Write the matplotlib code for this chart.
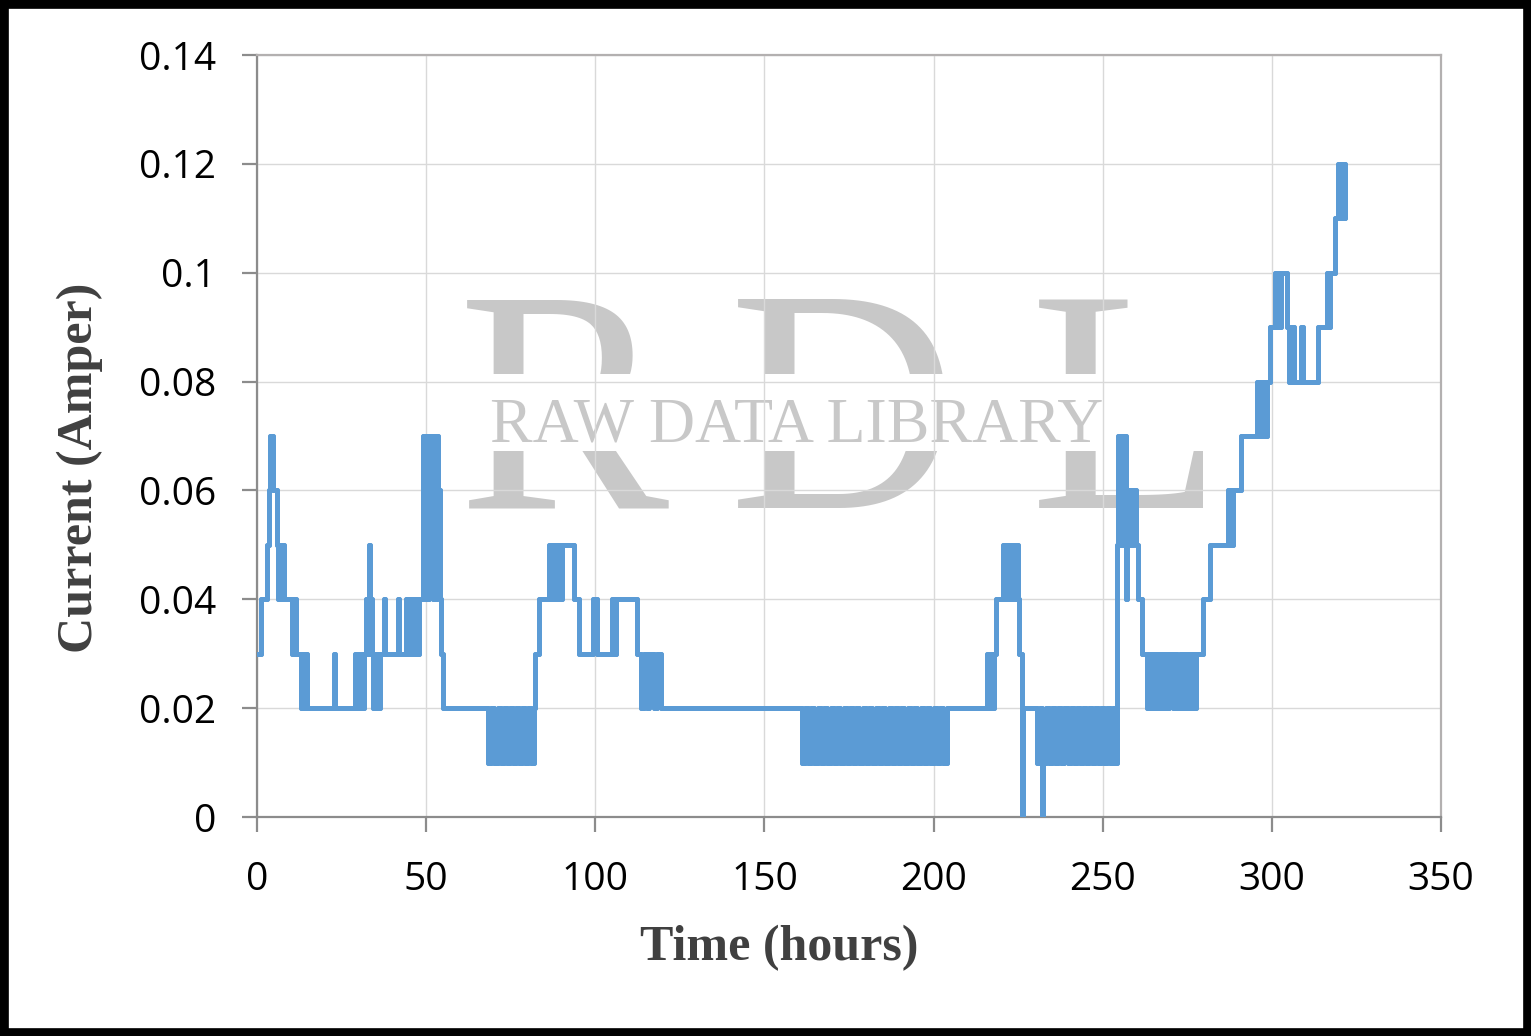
import matplotlib.pyplot as plt
from matplotlib.patches import Rectangle

plt.rcParams['path.simplify'] = False

# each pair: (time in hours, current in A held from that time on)
switches_start = [
    (0, 0.03), (1.3, 0.04), (3.0, 0.05), (3.6, 0.06), (3.9, 0.07), (4.6, 0.06),
    (5.8, 0.05), (6.3, 0.04), (6.7, 0.05), (7.1, 0.04), (7.5, 0.05), (8.0, 0.04),
    (10.3, 0.03), (10.8, 0.04), (11.5, 0.03), (12.9, 0.02), (13.3, 0.03), (13.8, 0.02),
    (14.3, 0.03), (14.8, 0.02), (22.7, 0.03), (23.1, 0.02), (29.0, 0.03), (29.5, 0.02),
    (30.0, 0.03), (30.5, 0.02), (31.0, 0.03), (31.4, 0.02), (31.7, 0.03), (32.3, 0.04),
    (32.7, 0.03), (33.0, 0.05), (33.3, 0.03), (33.8, 0.04), (34.1, 0.03), (34.4, 0.02),
    (34.8, 0.03), (35.2, 0.02), (35.6, 0.03), (36.0, 0.02), (36.5, 0.03), (37.5, 0.04),
    (37.9, 0.03), (41.7, 0.04), (42.1, 0.03), (44.0, 0.04), (44.5, 0.03), (45.0, 0.04),
    (45.5, 0.03), (46.0, 0.04), (46.5, 0.03), (47.0, 0.04), (47.5, 0.03), (48.0, 0.04),
    (49.2, 0.07), (49.6, 0.04), (50.0, 0.07), (50.4, 0.04), (50.8, 0.07), (51.2, 0.05),
    (51.6, 0.07), (52.0, 0.04), (52.4, 0.07), (52.8, 0.04), (53.2, 0.07), (53.6, 0.06),
    (54.0, 0.04), (54.5, 0.03), (55.0, 0.02),
]

switches_mid = [
    (68.4, 0.01), (69.3, 0.02), (70.2, 0.01), (71.1, 0.02), (72.0, 0.01), (72.9, 0.02),
    (73.8, 0.01), (74.7, 0.02), (75.6, 0.01), (76.5, 0.02), (77.4, 0.01), (78.3, 0.02),
    (79.2, 0.01), (80.1, 0.02), (81.0, 0.01), (81.8, 0.02), (82.2, 0.03), (83.3, 0.04),
    (86.3, 0.05), (86.8, 0.04), (87.3, 0.05), (87.8, 0.04), (88.3, 0.05), (88.8, 0.04),
    (89.3, 0.05), (89.8, 0.04), (90.3, 0.05), (93.7, 0.04), (95.3, 0.03), (99.4, 0.04),
    (100.6, 0.03), (105.0, 0.04), (105.5, 0.03), (106.0, 0.04), (112.4, 0.03), (113.5, 0.02),
    (114.3, 0.03), (115.2, 0.02), (116.0, 0.03), (117.4, 0.02), (118.2, 0.03), (119.5, 0.02),
]

switches_long = [
    (161.0, 0.01), (162.0, 0.02), (162.9, 0.01), (163.9, 0.02), (164.8, 0.01), (165.8, 0.02),
    (166.7, 0.01), (167.7, 0.02), (168.6, 0.01), (169.6, 0.02), (170.5, 0.01), (171.5, 0.02),
    (172.4, 0.01), (173.4, 0.02), (174.3, 0.01), (175.3, 0.02), (176.2, 0.01), (177.2, 0.02),
    (178.1, 0.01), (179.1, 0.02), (180.0, 0.01), (181.0, 0.02), (181.9, 0.01), (182.9, 0.02),
    (183.8, 0.01), (184.8, 0.02), (185.7, 0.01), (186.7, 0.02), (187.6, 0.01), (188.6, 0.02),
    (189.5, 0.01), (190.5, 0.02), (191.4, 0.01), (192.4, 0.02), (193.3, 0.01), (194.3, 0.02),
    (195.2, 0.01), (196.2, 0.02), (197.1, 0.01), (198.1, 0.02), (199.0, 0.01), (200.0, 0.02),
    (200.9, 0.01), (201.9, 0.02), (202.8, 0.01), (203.9, 0.02),
    (215.7, 0.03), (216.3, 0.02), (216.9, 0.03), (217.5, 0.02), (218.0, 0.03), (218.4, 0.04),
    (220.4, 0.05), (220.9, 0.04), (221.4, 0.05), (221.9, 0.04), (222.4, 0.05), (222.9, 0.04),
    (223.4, 0.05), (223.9, 0.04), (224.4, 0.05), (225.0, 0.04), (225.4, 0.03), (226.0, 0.0),
    (226.3, 0.02),
]

switches_late = [
    (230.7, 0.01), (231.6, 0.02), (232.2, 0.0), (232.4, 0.01), (233.3, 0.02), (234.2, 0.01),
    (235.1, 0.02), (236.0, 0.01), (236.9, 0.02), (237.8, 0.01), (238.7, 0.02), (239.6, 0.01),
    (240.5, 0.02), (241.4, 0.01), (242.3, 0.02), (243.2, 0.01), (244.1, 0.02), (245.0, 0.01),
    (245.9, 0.02), (246.8, 0.01), (247.7, 0.02), (248.6, 0.01), (249.5, 0.02), (250.4, 0.01),
    (251.3, 0.02), (252.2, 0.01), (253.1, 0.02), (253.7, 0.01),
    (254.1, 0.05), (254.5, 0.07), (254.9, 0.05), (255.3, 0.07), (255.7, 0.05), (256.1, 0.07),
    (256.9, 0.04), (257.3, 0.06), (257.8, 0.05), (258.2, 0.06), (258.8, 0.05), (259.1, 0.06),
    (259.8, 0.05), (260.3, 0.04), (261.5, 0.03),
    (263.0, 0.02), (263.6, 0.03), (264.2, 0.02), (264.8, 0.03), (265.4, 0.02), (266.0, 0.03),
    (266.6, 0.02), (267.2, 0.03), (267.8, 0.02), (268.4, 0.03), (269.0, 0.02), (269.6, 0.03),
    (270.9, 0.02), (271.5, 0.03), (272.1, 0.02), (272.7, 0.03), (273.3, 0.02), (273.9, 0.03),
    (274.5, 0.02), (275.1, 0.03), (275.7, 0.02), (276.3, 0.03), (276.9, 0.02), (277.6, 0.03),
    (279.7, 0.04), (281.7, 0.05), (287.0, 0.06), (287.4, 0.05), (287.8, 0.06), (288.2, 0.05),
    (288.6, 0.06), (290.8, 0.07), (295.5, 0.08), (296.0, 0.07), (296.5, 0.08), (297.0, 0.07),
    (297.5, 0.08), (298.0, 0.07), (298.5, 0.08), (299.4, 0.09), (301.0, 0.10), (301.4, 0.09),
    (301.8, 0.10), (302.2, 0.09), (302.6, 0.10), (304.6, 0.09), (305.0, 0.08), (305.4, 0.09),
    (305.8, 0.08), (306.2, 0.09), (306.6, 0.08), (308.6, 0.09), (309.2, 0.08), (313.7, 0.09),
    (316.2, 0.10), (316.7, 0.09), (317.1, 0.10), (318.6, 0.11), (319.6, 0.12), (320.0, 0.11),
    (320.4, 0.12), (320.8, 0.11), (321.2, 0.12), (321.6, 0.11),
]

x_ticks = [0, 50, 100, 150, 200, 250, 300, 350]
y_ticks = [0, 0.02, 0.04, 0.06, 0.08, 0.10, 0.12, 0.14]
y_tick_labels = ['0', '0.02', '0.04', '0.06', '0.08', '0.1', '0.12', '0.14']

data = switches_start + switches_mid + switches_long + switches_late
hours = [p[0] for p in data]
amps = [p[1] for p in data]

fig = plt.figure(figsize=(15.31, 10.36), dpi=100)
ax = fig.add_axes([257/1531, 1 - 817/1036, 1184/1531, 762/1036])

blue = '#5b9bd5'
ax.plot(hours, amps, drawstyle='steps-post', color=blue, lw=3.6,
        solid_joinstyle='round', solid_capstyle='round', zorder=3)
# the jumps again as separate strokes so the fast switching reads as a solid band
ax.vlines(hours[1:], amps[:-1], amps[1:], color=blue, lw=3.6,
          capstyle='round', zorder=3)

ax.set_xlim(0, 350)
ax.set_ylim(0, 0.14)
ax.set_xticks(x_ticks)
ax.set_yticks(y_ticks)
ax.set_yticklabels(y_tick_labels)
ax.grid(True, color='#d9d9d9', lw=1.0)
ax.set_axisbelow(True)

for side in ['top', 'right']:
    ax.spines[side].set_color('#b3b0b0')
    ax.spines[side].set_linewidth(1.6)
for side in ['left', 'bottom']:
    ax.spines[side].set_color('#8c8c8c')
    ax.spines[side].set_linewidth(1.6)

ax.tick_params(axis='y', length=10.5, width=1.6, color='#8c8c8c', pad=19,
               labelsize=28)
ax.tick_params(axis='x', length=10.5, width=1.6, color='#8c8c8c', pad=21,
               labelsize=28)
for lab in ax.get_xticklabels() + ax.get_yticklabels():
    lab.set_fontfamily('Open Sans')

# watermark (behind the grid)
wm = '#c8c8c8'
for letter, xpos in [('R', 0.3677), ('D', 0.5506), ('L', 0.7361)]:
    ax.text(xpos, 1 - 508/1036, letter, transform=fig.transFigure, ha='center',
            va='baseline', fontsize=228, family='Liberation Serif', color=wm,
            zorder=0.1, clip_on=False)
ax.add_patch(Rectangle((455/1531, 1 - 451/1036), 770/1531, 77/1036,
                       transform=fig.transFigure, facecolor='white',
                       edgecolor='none', zorder=0.2, clip_on=False))
ax.text(0.5206, 1 - 441/1036, 'RAW DATA LIBRARY', transform=fig.transFigure,
        ha='center', va='baseline', fontsize=46, family='Liberation Serif',
        color=wm, zorder=0.3, clip_on=False)

fig.text(0.5088, 1 - 948/1036, 'Time (hours)', ha='center', va='center',
         fontsize=36, fontweight='bold', family='Liberation Serif', color='#404040')
fig.text(80/1531, 1 - 468/1036, 'Current (Amper)', ha='center', va='center',
         rotation=90, fontsize=36, fontweight='bold', family='Liberation Serif',
         color='#404040')

fig.patches.append(Rectangle((0, 0), 1, 1, transform=fig.transFigure, fill=False,
                             edgecolor='black', lw=12, zorder=10))

fig.savefig('out.png', dpi=100)
